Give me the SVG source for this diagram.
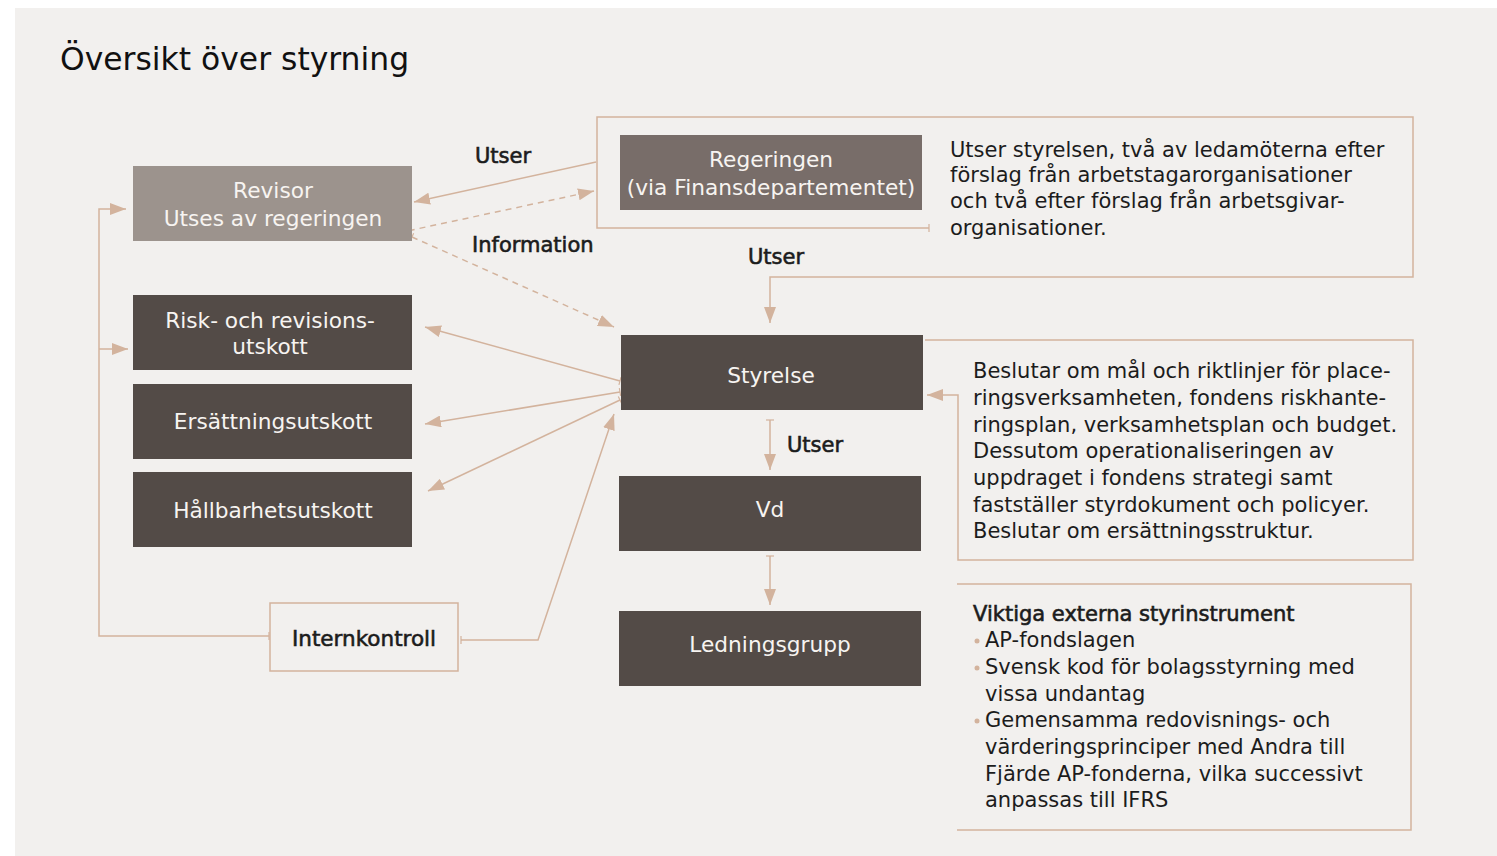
<svg xmlns="http://www.w3.org/2000/svg" width="1497" height="856" viewBox="0 0 1497 856">
<defs>
<style>
.bg{fill:#f2f0ee}
.dark{fill:#534b47}
.mid{fill:#786d69}
.light{fill:#9c938d}
.wt{fill:#f7f4f1;font-family:"DejaVu Sans",sans-serif;font-size:21.7px;text-anchor:middle}
.bt{fill:#1c1c1c;font-family:"DejaVu Sans",sans-serif;font-size:21px}
.med{stroke:#1c1c1c;stroke-width:0.6}
.lbl{fill:#1c1c1c;font-family:"DejaVu Sans",sans-serif;font-size:21px;stroke:#1c1c1c;stroke-width:0.6}
.frame{fill:none;stroke:#d3b39d;stroke-width:1.5}
.con{fill:none;stroke:#d3b39d;stroke-width:1.5}
.dash{stroke-dasharray:6 5}
</style>
<marker id="arr" viewBox="0 0 16 12" refX="16" refY="6" markerWidth="16" markerHeight="12" markerUnits="userSpaceOnUse" orient="auto">
<path d="M0,0 L16,6 L0,12 z" fill="#d3b39d"/>
</marker>
<marker id="tick" viewBox="-2 -6 4 12" refX="0" refY="0" markerWidth="4" markerHeight="12" markerUnits="userSpaceOnUse" orient="auto">
<path d="M0,-4 V4" stroke="#d3b39d" stroke-width="1.2" fill="none"/>
</marker>
</defs>
<rect class="bg" x="15" y="8" width="1482" height="848"/>
<text x="60" y="70" style="fill:#111;font-family:'DejaVu Sans',sans-serif;font-size:31.4px">Översikt över styrning</text>

<g id="connectors">
<path class="frame" d="M929,228 H597 V117 H1413 V277 H770 V323" marker-end="url(#arr)" marker-start="url(#tick)"/>
<path class="con" d="M596,162 L414,202" marker-end="url(#arr)"/>
<path class="con dash" d="M398,233 L594,191" marker-start="url(#tick)" marker-end="url(#arr)"/>
<path class="con dash" d="M412,237 L614,327" marker-start="url(#tick)" marker-end="url(#arr)"/>
<path class="con" d="M620,381 L425,327" marker-start="url(#tick)" marker-end="url(#arr)"/>
<path class="con" d="M620,392 L425,424" marker-start="url(#tick)" marker-end="url(#arr)"/>
<path class="con" d="M620,400 L428,491" marker-start="url(#tick)" marker-end="url(#arr)"/>
<path class="con" d="M461,640 H538 L614,414" marker-start="url(#tick)" marker-end="url(#arr)"/>
<path class="con" d="M269,636 H99 V209 H126" marker-start="url(#tick)" marker-end="url(#arr)"/>
<path class="con" d="M99,349 H128" marker-end="url(#arr)"/>
<path class="con" d="M770,420 V470" marker-start="url(#tick)" marker-end="url(#arr)"/>
<path class="con" d="M770,556 V605" marker-start="url(#tick)" marker-end="url(#arr)"/>
<path class="frame" d="M925,340 H1413 V560 H958 V395 H927" marker-end="url(#arr)"/>
<path class="frame" d="M957,584 H1411 V830 H957"/>
<text class="lbl" x="475" y="163">Utser</text>
<text class="lbl" x="472" y="252">Information</text>
<text class="lbl" x="748" y="264">Utser</text>
<text class="lbl" x="787" y="452">Utser</text>
</g>

<g id="revisor">
<rect class="light" x="133" y="166" width="279" height="75"/>
<text class="wt" x="273" y="198">Revisor</text>
<text class="wt" x="273" y="226">Utses av regeringen</text>
</g>
<g id="regeringen">
<rect class="mid" x="620" y="135" width="302" height="75"/>
<text class="wt" x="771" y="167">Regeringen</text>
<text class="wt" x="771" y="195">(via Finansdepartementet)</text>
</g>
<g id="regeringen-text">
<text class="bt" x="950" y="157">Utser styrelsen, två av ledamöterna efter</text>
<text class="bt" x="950" y="182">förslag från arbetstagarorganisationer</text>
<text class="bt" x="950" y="208">och två efter förslag från arbetsgivar-</text>
<text class="bt" x="950" y="235">organisationer.</text>
</g>
<g id="risk">
<rect class="dark" x="133" y="295" width="279" height="75"/>
<text class="wt" x="270" y="328">Risk- och revisions-</text>
<text class="wt" x="270" y="354">utskott</text>
</g>
<g id="ersattning">
<rect class="dark" x="133" y="384" width="279" height="75"/>
<text class="wt" x="273" y="429">Ersättningsutskott</text>
</g>
<g id="hallbarhet">
<rect class="dark" x="133" y="472" width="279" height="75"/>
<text class="wt" x="273" y="518">Hållbarhetsutskott</text>
</g>
<g id="styrelse">
<rect class="dark" x="621" y="335" width="302" height="75"/>
<text class="wt" x="771" y="383">Styrelse</text>
</g>
<g id="styrelse-text">
<text class="bt" x="973" y="378">Beslutar om mål och riktlinjer för place-</text>
<text class="bt" x="973" y="405">ringsverksamheten, fondens riskhante-</text>
<text class="bt" x="973" y="432">ringsplan, verksamhetsplan och budget.</text>
<text class="bt" x="973" y="458">Dessutom operationaliseringen av</text>
<text class="bt" x="973" y="485">uppdraget i fondens strategi samt</text>
<text class="bt" x="973" y="512">fastställer styrdokument och policyer.</text>
<text class="bt" x="973" y="538">Beslutar om ersättningsstruktur.</text>
</g>
<g id="vd">
<rect class="dark" x="619" y="476" width="302" height="75"/>
<text class="wt" x="770" y="517">Vd</text>
</g>
<g id="ledningsgrupp">
<rect class="dark" x="619" y="611" width="302" height="75"/>
<text class="wt" x="770" y="652">Ledningsgrupp</text>
</g>
<g id="internkontroll">
<rect x="270" y="603" width="188" height="68" fill="none" stroke="#d3b39d" stroke-width="1.5"/>
<text class="bt med" x="364" y="646" text-anchor="middle" style="font-size:21.5px">Internkontroll</text>
</g>
<g id="styrinstrument">
<text class="bt med" x="973" y="621">Viktiga externa styrinstrument</text>
<g fill="#d3b39d"><circle cx="977" cy="641" r="2.5"/><circle cx="977" cy="668" r="2.5"/><circle cx="977" cy="721" r="2.5"/></g>
<text class="bt" x="985" y="647">AP-fondslagen</text>
<text class="bt" x="985" y="674">Svensk kod för bolagsstyrning med</text>
<text class="bt" x="985" y="701">vissa undantag</text>
<text class="bt" x="985" y="727">Gemensamma redovisnings- och</text>
<text class="bt" x="985" y="754">värderingsprinciper med Andra till</text>
<text class="bt" x="985" y="781">Fjärde AP-fonderna, vilka successivt</text>
<text class="bt" x="985" y="807">anpassas till IFRS</text>
</g>
</svg>
